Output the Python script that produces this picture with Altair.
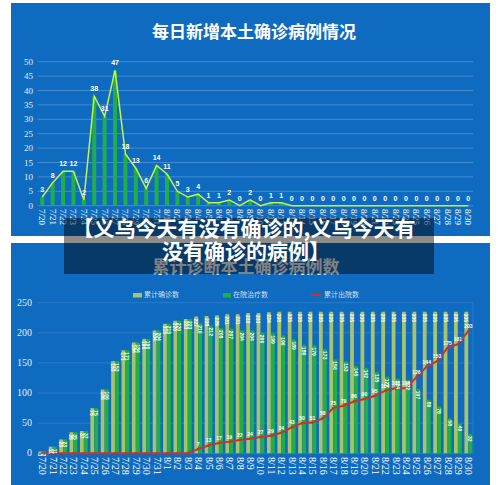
import altair as alt
import pandas as pd

dates = ["7/20", "7/21", "7/22", "7/23", "7/24", "7/25", "7/26", "7/27", "7/28", "7/29",
         "7/30", "7/31", "8/1", "8/2", "8/3", "8/4", "8/5", "8/6", "8/7", "8/8",
         "8/9", "8/10", "8/11", "8/12", "8/13", "8/14", "8/15", "8/16", "8/17", "8/18",
         "8/19", "8/20", "8/21", "8/22", "8/23", "8/24", "8/25", "8/26", "8/27", "8/28",
         "8/29", "8/30"]

daily_new = [3, 8, 12, 12, 2, 38, 31, 47, 18, 13,
             6, 14, 11, 5, 3, 4, 1, 1, 2, 0,
             2, 0, 1, 1, 0, 0, 0, 0, 0, 0,
             0, 0, 0, 0, 0, 0, 0, 0, 0, 0,
             0, 0]

cumulative = [3, 11, 23, 35, 37, 75, 106, 153, 171, 184,
              190, 204, 215, 220, 223, 227, 228, 229, 231, 231,
              233, 233, 234, 235, 235, 235, 235, 235, 235, 235,
              235, 235, 235, 235, 235, 235, 235, 235, 235, 235,
              235, 235]

in_hospital = [3, 11, 23, 35, 37, 75, 106, 153, 171, 184,
               190, 204, 215, 220, 223, 216, 212, 208, 207, 204,
               204, 200, 199, 196, 189, 180, 179, 173, 156, 153,
               145, 142, 135, 127, 124, 122, 107, 89, 78, 58,
               49, 32]

discharged = [0, 0, 0, 0, 0, 0, 0, 0, 0, 0,
              0, 0, 0, 0, 0, 7, 13, 17, 19, 22,
              24, 27, 29, 34, 43, 50, 51, 58, 75, 79,
              86, 90, 95, 104, 108, 108, 126, 144, 153, 175,
              181, 203]

top_ticks = [0, 5, 10, 15, 20, 25, 30, 35, 40, 45, 50]
bottom_ticks = [0, 50, 100, 150, 200, 250]

top_title = "每日新增本土确诊病例情况"
bottom_title = "累计诊断本土确诊病例数"
banner_line1 = "【义乌今天有没有确诊的,义乌今天有"
banner_line2 = "没有确诊的病例】"
legend_names = ["累计确诊数", "在院治疗数", "累计出院数"]

df = pd.DataFrame({"date": dates, "new": daily_new, "cum": cumulative,
                   "hosp": in_hospital, "dis": discharged})
top_df = pd.DataFrame({"v": top_ticks})
bot_df = pd.DataFrame({"v": bottom_ticks})
one = pd.DataFrame({"k": [0]})

PANEL = "#0e6bbf"
GREEN = "#1fae48"
OLIVE = "#a7c36b"
RED = "#c2372b"
SERIF = "Liberation Serif"
CJK = "Noto Sans CJK SC"

xs = alt.Scale(type="band", domain=dates, range=[37.1, 473.5], paddingInner=0, paddingOuter=0)
top_y = alt.Scale(domain=[0, 50], range=[205.7, 61.7], nice=False)
bot_y = alt.Scale(domain=[0, 250], range=[453.3, 302.7], nice=False)


def XB():
    return alt.X("date:N", scale=xs, axis=None)


def XC():
    return alt.X("date:N", scale=xs, axis=None, bandPosition=0.5)


def TY(f):
    return alt.Y(f, scale=top_y, axis=None)


def BY(f):
    return alt.Y(f, scale=bot_y, axis=None)


layers = []

# panels
layers.append(alt.Chart(one).mark_rect(color=PANEL).encode(
    x=alt.value(11), x2=alt.value(490), y=alt.value(3), y2=alt.value(236)))
layers.append(alt.Chart(one).mark_rect(color=PANEL).encode(
    x=alt.value(11), x2=alt.value(490), y=alt.value(243), y2=alt.value(485)))

# ---- top chart ----
layers.append(alt.Chart(one).mark_text(text=top_title, font=CJK, fontWeight="bold",
                                       fontSize=17, color="white", align="center",
                                       baseline="middle").encode(
    x=alt.value(254), y=alt.value(33)))
layers.append(alt.Chart(top_df).mark_rule(color="#4f95da", strokeWidth=0.8).encode(
    y=TY("v:Q"), x=alt.value(37.7), x2=alt.value(473)))
layers.append(alt.Chart(top_df).mark_text(font=SERIF, fontSize=9, color="#e4ecf5",
                                          align="right", baseline="middle").encode(
    y=TY("v:Q"), x=alt.value(33), text="v:Q"))
layers.append(alt.Chart(df).mark_bar(size=4, color=GREEN).encode(x=XB(), y=TY("new:Q")))
layers.append(alt.Chart(df).mark_line(color="#c9f04c", strokeWidth=1.5).encode(
    x=XC(), y=TY("new:Q")))
layers.append(alt.Chart(df).mark_text(font="Liberation Sans", fontWeight="bold", fontSize=7,
                                      color="white", yOffset=-7, baseline="middle").encode(
    x=XC(), y=TY("new:Q"), text="new:Q"))
layers.append(alt.Chart(df).mark_text(font=SERIF, fontSize=9, color="white", angle=90,
                                      align="left", baseline="middle").encode(
    x=XC(), y=alt.value(209), text="date:N"))

# ---- bottom chart ----
layers.append(alt.Chart(one).mark_text(text=bottom_title, font=CJK, fontWeight="bold",
                                       fontSize=17, color="#e8edf3", align="center",
                                       baseline="middle").encode(
    x=alt.value(246), y=alt.value(268)))
# legend
layers.append(alt.Chart(one).mark_rect(color=OLIVE).encode(
    x=alt.value(133), x2=alt.value(142), y=alt.value(293), y2=alt.value(297.5)))
layers.append(alt.Chart(one).mark_rect(color=GREEN).encode(
    x=alt.value(223), x2=alt.value(231), y=alt.value(293), y2=alt.value(297.5)))
layers.append(alt.Chart(one).mark_rule(color=RED, strokeWidth=2).encode(
    x=alt.value(311), x2=alt.value(322), y=alt.value(295)))
layers.append(alt.Chart(one).mark_point(color=RED, filled=True, size=10, opacity=1).encode(
    x=alt.value(316.5), y=alt.value(295)))
for name, lx in zip(legend_names, [144, 233, 324]):
    layers.append(alt.Chart(one).mark_text(text=name, font=CJK, fontSize=7, color="#d6dee8",
                                           align="left", baseline="middle").encode(
        x=alt.value(lx), y=alt.value(295)))

layers.append(alt.Chart(bot_df).mark_rule(color="#3f87d2", strokeWidth=0.6).encode(
    y=BY("v:Q"), x=alt.value(37.7), x2=alt.value(473)))
layers.append(alt.Chart(one).mark_rule(color="#3f87d2", strokeWidth=0.6).encode(
    x=alt.value(473), y=alt.value(302.7), y2=alt.value(453.3)))
layers.append(alt.Chart(bot_df).mark_text(font=SERIF, fontSize=10, color="#e4ecf5",
                                          align="right", baseline="middle").encode(
    y=BY("v:Q"), x=alt.value(32), text="v:Q"))
layers.append(alt.Chart(df).mark_bar(size=3.8, xOffset=-2, color=OLIVE).encode(
    x=XB(), y=BY("cum:Q")))
layers.append(alt.Chart(df).mark_bar(size=3.8, xOffset=2, color=GREEN).encode(
    x=XB(), y=BY("hosp:Q")))
layers.append(alt.Chart(df).mark_line(color=RED, strokeWidth=2).encode(
    x=XC(), y=BY("dis:Q")))
layers.append(alt.Chart(df).mark_point(color=RED, filled=True, size=6, opacity=1).encode(
    x=XC(), y=BY("dis:Q")))
layers.append(alt.Chart(df).mark_text(font="Liberation Sans", fontWeight="bold", fontSize=5,
                                      color="white", angle=90, align="left", baseline="middle",
                                      xOffset=-2, yOffset=2).encode(
    x=XC(), y=BY("cum:Q"), text="cum:Q"))
layers.append(alt.Chart(df).mark_text(font="Liberation Sans", fontWeight="bold", fontSize=5,
                                      color="white", angle=90, align="left", baseline="middle",
                                      xOffset=2, yOffset=2).encode(
    x=XC(), y=BY("hosp:Q"), text="hosp:Q"))
layers.append(alt.Chart(df[df["dis"] > 0]).mark_text(font="Liberation Sans", fontWeight="bold",
                                                     fontSize=5, color="white", yOffset=-5,
                                                     baseline="middle").encode(
    x=XC(), y=BY("dis:Q"), text="dis:Q"))
layers.append(alt.Chart(df).mark_text(font=SERIF, fontSize=10, color="white", angle=90,
                                      align="left", baseline="middle").encode(
    x=XC(), y=alt.value(457), text="date:N"))

# ---- banner overlay ----
layers.append(alt.Chart(one).mark_rect(color="black", opacity=0.45).encode(
    x=alt.value(64), x2=alt.value(434), y=alt.value(218), y2=alt.value(274)))
layers.append(alt.Chart(one).mark_text(text=banner_line1, font=CJK, fontWeight="bold",
                                       fontSize=21, color="white", align="center",
                                       baseline="middle").encode(
    x=alt.value(244), y=alt.value(230)))
layers.append(alt.Chart(one).mark_text(text=banner_line2, font=CJK, fontWeight="bold",
                                       fontSize=21, color="white", align="center",
                                       baseline="middle").encode(
    x=alt.value(246), y=alt.value(253)))

chart = alt.layer(*layers).resolve_scale(y="independent").properties(
    width=500, height=485, autosize=alt.AutoSizeParams(type="none"), padding=0,
    background="white"
).configure_view(stroke=None)

chart.save("out.html", embed_options={"renderer": "svg", "actions": False})
